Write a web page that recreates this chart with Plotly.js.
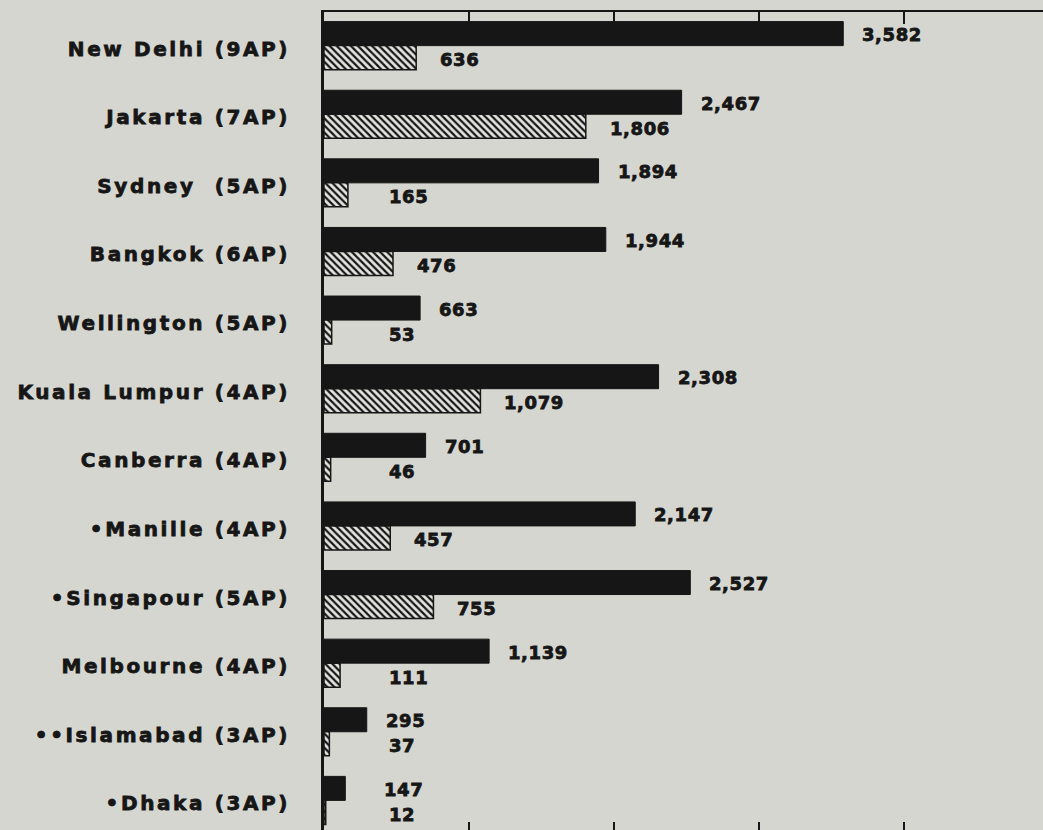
<!DOCTYPE html>
<html>
<head>
<meta charset="utf-8">
<script src="https://cdn.plot.ly/plotly-3.0.1.min.js"></script>
<style>
  html, body { margin: 0; padding: 0; background: #d6d6d1; overflow: hidden; }
  #chart { width: 1043px; height: 840px; }
  .ytick text { letter-spacing: 2.6px; stroke: #161616; stroke-width: 0.8px; }
  .annotation-text { stroke: #161616; stroke-width: 0.8px; letter-spacing: 0.6px; }
</style>
</head>
<body>
<div id="chart"></div>
<script>
// ---- data ----
const cities = ["New Delhi (9AP)", "Jakarta (7AP)", "Sydney\u00a0 (5AP)", "Bangkok (6AP)", "Wellington (5AP)",
  "Kuala Lumpur (4AP)", "Canberra (4AP)", "\u2022Manille (4AP)", "\u2022Singapour (5AP)", "Melbourne (4AP)",
  "\u2022\u2022Islamabad (3AP)", "\u2022Dhaka (3AP)"];
const darkValues = [3582, 2467, 1894, 1944, 663, 2308, 701, 2147, 2527, 1139, 295, 147];
const hatchValues = [636, 1806, 165, 476, 53, 1079, 46, 457, 755, 111, 37, 12];
const xTicks = [1000, 2000, 3000, 4000];

// ---- chart ----
const ink = '#161616';
const fmt = v => v.toLocaleString('en-US');

const traces = [
  {
    type: 'bar', orientation: 'h', y: cities, x: darkValues,
    marker: { color: ink, line: { color: ink, width: 1 } },
    hoverinfo: 'x+y'
  },
  {
    type: 'bar', orientation: 'h', y: cities, x: hatchValues,
    marker: {
      color: '#e4e4e0',
      line: { color: ink, width: 1.5 },
      pattern: { shape: '\\', fgcolor: ink, bgcolor: '#e4e4e0', size: 5, solidity: 0.45, fillmode: 'replace' }
    },
    hoverinfo: 'x+y'
  }
];

const labelFont = { family: 'DejaVu Sans', size: 18, color: ink, weight: 700 };
const minX = 283;
const annotations = [];
cities.forEach((c, i) => {
  annotations.push({ x: Math.max(darkValues[i], minX), y: c, text: fmt(darkValues[i]), showarrow: false,
    xanchor: 'left', yanchor: 'middle', xshift: 17, yshift: 11, font: labelFont });
  annotations.push({ x: Math.max(hatchValues[i], minX), y: c, text: fmt(hatchValues[i]), showarrow: false,
    xanchor: 'left', yanchor: 'middle', xshift: 22, yshift: -14, font: labelFont });
});

const layout = {
  width: 1043, height: 840,
  margin: { l: 324, r: 0, t: 12, b: 6, pad: 0 },
  paper_bgcolor: '#d6d6d1', plot_bgcolor: '#d6d6d1',
  barmode: 'group', bargap: 0.30, bargroupgap: 0,
  showlegend: false,
  xaxis: {
    range: [0, 4960], tickvals: xTicks, showticklabels: false,
    ticks: 'inside', ticklen: 12, tickwidth: 1.5, tickcolor: ink,
    showline: true, linecolor: ink, linewidth: 2, mirror: 'ticks',
    showgrid: false, zeroline: false
  },
  yaxis: {
    type: 'category', range: [11.49, -0.49],
    showline: true, linecolor: ink, linewidth: 3,
    ticks: '', showgrid: false, zeroline: false,
    ticklabelstandoff: 27, ticklabelshift: -3,
    tickfont: { family: 'DejaVu Sans', size: 20, color: ink, weight: 700 }
  },
  annotations: annotations
};

Plotly.newPlot('chart', traces, layout, { displayModeBar: false, staticPlot: true });
</script>
</body>
</html>
